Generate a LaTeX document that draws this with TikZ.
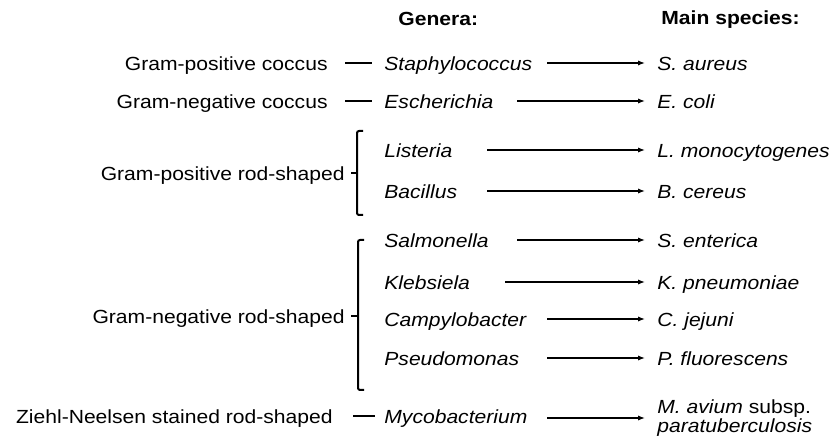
\documentclass[tikz,border=0pt]{standalone}
\usepackage{fontspec}
\setmainfont[FakeStretch=1.11]{Liberation Sans}
\usetikzlibrary{arrows.meta,positioning}

\begin{document}
\begin{tikzpicture}[x=0.5bp, y=-0.5bp,
    every node/.style={inner sep=0pt, font=\fontsize{9.5bp}{9.6bp}\selectfont},
    head/.style={font=\fontsize{9.5bp}{9.6bp}\selectfont\bfseries, anchor=west},
    group/.style={anchor=east, text height=0.72em, text depth=0pt},
    genus/.style={anchor=west, text height=0.72em, text depth=0pt, font=\fontsize{9.5bp}{9.6bp}\selectfont\itshape},
    species/.style={anchor=west, inner xsep=6bp, text height=0.72em, text depth=0pt, font=\fontsize{9.5bp}{9.6bp}\selectfont\itshape},
    link/.style={line width=0.8bp},
    brace/.style={line width=1bp, rounded corners=1bp},
    arrow/.style={-{Latex[length=3.5bp, width=2.6bp]}, line width=0.6bp}]
  \useasboundingbox (0,0) rectangle (833,447);

  %--- Headers ---
  \node[head] (hgen) at (398,19) {Genera:};
  \node[head] (hspec) at (661,20) {Main species:};

  %--- Groups ---
  \node[group] (c1) at (328,63) {Gram-positive coccus};
  \node[group] (c2) at (328,101) {Gram-negative coccus};
  \node[group] (c3) at (345,173) {Gram-positive rod-shaped};
  \node[group] (c4) at (345,316) {Gram-negative rod-shaped};
  \node[group] (c5) at (333,416) {Ziehl-Neelsen stained rod-shaped};

  %--- Genera ---
  \node[genus] (g1) at (384,63) {Staphylococcus};
  \node[genus] (g2) at (384,101) {Escherichia};
  \node[genus] (g3) at (384,150) {Listeria};
  \node[genus] (g4) at (384,191) {Bacillus};
  \node[genus] (g5) at (384,240) {Salmonella};
  \node[genus] (g6) at (384,282) {Klebsiela};
  \node[genus] (g7) at (384,319) {Campylobacter};
  \node[genus] (g8) at (384,358) {Pseudomonas};
  \node[genus] (g9) at (384,416) {Mycobacterium};

  %--- Species ---
  \node[species] (s1) at (645,63) {S. aureus};
  \node[species] (s2) at (645,101) {E. coli};
  \node[species] (s3) at (645,150) {L. monocytogenes};
  \node[species] (s4) at (645,191) {B. cereus};
  \node[species] (s5) at (645,240) {S. enterica};
  \node[species] (s6) at (645,282) {K. pneumoniae};
  \node[species] (s7) at (645,319) {C. jejuni};
  \node[species] (s8) at (645,358) {P. fluorescens};
  \node[anchor=west, inner xsep=6bp, align=left] (s9) at (645,418) {\textit{M. avium} subsp.\\\textit{paratuberculosis}};

  % Single links
  \draw[link, shorten <=8.5bp, shorten >=6bp] (c1.east) -- (g1.west);
  \draw[link, shorten <=8.5bp, shorten >=6bp] (c2.east) -- (g2.west);
  \draw[link, shorten <=10bp, shorten >=4.5bp] (c5.east) -- (g9.west |- c5.east);

  % Brackets
  \draw[brace] (363,131) -- (357,131) -- (357,215) -- (363,215);
  \draw[line width=1bp] ([xshift=3bp]c3.east) -- ++(6,0);
  \draw[brace] (364,240) -- (358,240) -- (358,390) -- (364,390);
  \draw[line width=1bp] ([xshift=3bp]c4.east) -- ++(7,0);

  % Arrows
  \coordinate (a1) at (547,63);
  \coordinate (a2) at (517,101);
  \coordinate (a3) at (487,150);
  \coordinate (a4) at (487,191);
  \coordinate (a5) at (517,240);
  \coordinate (a6) at (505,282);
  \coordinate (a7) at (547,319);
  \coordinate (a8) at (547,358);
  \coordinate (a9) at (547,418);
  \draw[arrow] (a1) -- (s1.west);
  \draw[arrow] (a2) -- (s2.west);
  \draw[arrow] (a3) -- (s3.west);
  \draw[arrow] (a4) -- (s4.west);
  \draw[arrow] (a5) -- (s5.west);
  \draw[arrow] (a6) -- (s6.west);
  \draw[arrow] (a7) -- (s7.west);
  \draw[arrow] (a8) -- (s8.west);
  \draw[arrow] (a9) -- (s9.west);
\end{tikzpicture}
\end{document}
